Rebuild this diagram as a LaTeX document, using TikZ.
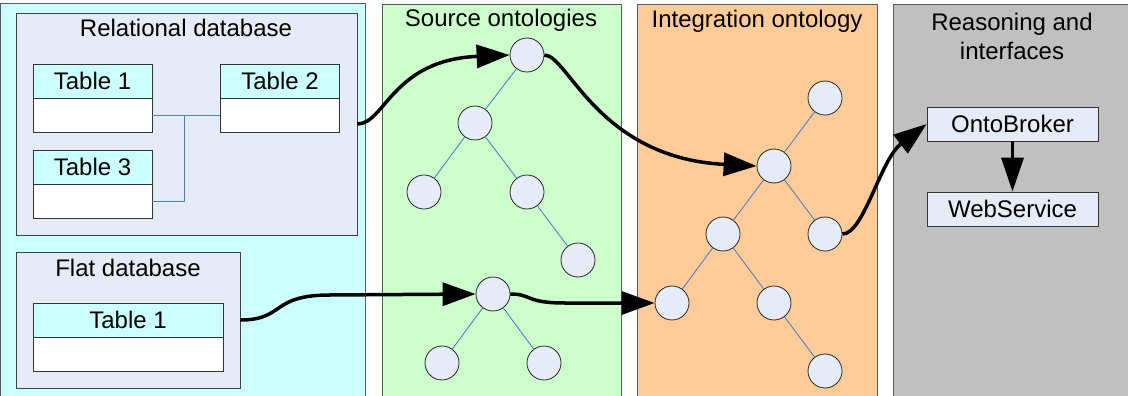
\documentclass[tikz,border=0pt]{standalone}
\usepackage{fontspec}
\setmainfont{Liberation Sans}
\usetikzlibrary{arrows.meta}
\definecolor{cyanfill}{HTML}{CCFFFF}
\definecolor{greenfill}{HTML}{CCFFCC}
\definecolor{orangefill}{HTML}{FFCC99}
\definecolor{grayfill}{HTML}{C0C0C0}
\definecolor{boxfill}{HTML}{E6ECF7}
\definecolor{edgeblue}{HTML}{4F81BD}
\tikzset{
  column/.style={draw=black!65, line width=0.8pt},
  group/.style={draw=black!75, fill=boxfill, line width=0.8pt, rectangle, inner sep=0pt},
  thead/.style={draw=black!80, fill=cyanfill, line width=0.8pt, rectangle, inner sep=0pt, minimum height=34pt},
  tbody/.style={draw=black!80, fill=white, line width=0.8pt, rectangle, inner sep=0pt, minimum height=34pt},
  concept/.style={circle, draw=black!85, fill=boxfill, line width=0.8pt, minimum size=34pt, inner sep=0pt},
  service/.style={draw=black!80, fill=boxfill, line width=0.8pt, rectangle, inner sep=0pt, minimum width=171pt, minimum height=34pt},
  tree/.style={draw=edgeblue, line width=0.9pt},
  link/.style={draw=edgeblue, line width=1pt},
  flow/.style={draw=black, line width=3.5pt, -{Triangle[length=33pt,width=23pt]}},
  title/.style={anchor=base, inner sep=0pt},
}
\begin{document}
\begin{tikzpicture}[x=1pt, y=-1pt, font=\fontsize{24}{28}\selectfont]
\useasboundingbox (0,0) rectangle (1128,396);
\clip (0,0) rectangle (1128,396);

% column backgrounds
\draw[column, fill=cyanfill]   (0.5,3) rectangle (365,420);
\draw[column, fill=greenfill]  (382,4) rectangle (621,420);
\draw[column, fill=orangefill] (637,4) rectangle (877,420);
\draw[column, fill=grayfill]   (893,4) rectangle (1140,420);

% column headings
\node[title] (hsrc) at (501,27) {Source ontologies};
\node[title] (hint) at (757,28) {Integration ontology};
\node[title] (hrea1) at (1012,31) {Reasoning and};
\node[title] (hrea2) at (1012,60) {interfaces};

% relational database
\node[group, minimum width=341pt, minimum height=222pt] (rel) at (186.5,124) {};
\node[title] (hrel) at (186,37) {Relational database};
\node[thead, minimum width=119pt] (t1h) at (92.5,81) {Table 1};
\node[tbody, minimum width=119pt] (t1b) at (92.5,115) {};
\node[thead, minimum width=119pt] (t2h) at (280,81) {Table 2};
\node[tbody, minimum width=119pt] (t2b) at (280,115) {};
\node[thead, minimum width=119pt] (t3h) at (92.5,167) {Table 3};
\node[tbody, minimum width=119pt] (t3b) at (92.5,201) {};
\coordinate (j) at (184,115);
\draw[link] (t1b.east) -- (t2b.west);
\draw[link] (t3b.east) -| (j);

% flat database
\node[group, minimum width=224pt, minimum height=136pt] (flat) at (128,320) {};
\node[title] (hflat) at (128,276) {Flat database};
\node[thead, minimum width=190pt] (fth) at (128,320) {Table 1};
\node[tbody, minimum width=190pt] (ftb) at (128,354) {};

% source ontologies
\node[concept] (s1) at (527,55) {};
\node[concept] (s2) at (475,123) {};
\node[concept] (s3) at (424,192) {};
\node[concept] (s4) at (527,192) {};
\node[concept] (s5) at (578,260) {};
\draw[tree] (s1) -- (s2) (s2) -- (s3) (s2) -- (s4) (s4) -- (s5);
\node[concept] (b1) at (493,294) {};
\node[concept] (b2) at (442,363) {};
\node[concept] (b3) at (544,363) {};
\draw[tree] (b1) -- (b2) (b1) -- (b3);

% integration ontology
\node[concept] (i1) at (825,98) {};
\node[concept] (i2) at (774,166) {};
\node[concept] (i3) at (723,234) {};
\node[concept] (i4) at (825,234) {};
\node[concept] (i5) at (672,303) {};
\node[concept] (i6) at (774,303) {};
\node[concept] (i7) at (825,371) {};
\draw[tree] (i1) -- (i2) (i2) -- (i3) (i2) -- (i4) (i3) -- (i5) (i3) -- (i6) (i6) -- (i7);

% reasoning and interfaces
\node[service] (ob) at (1012.5,124) {OntoBroker};
\node[service] (ws) at (1012.5,209) {WebService};
\draw[flow, -{Triangle[length=34pt,width=22pt]}] (ob.south) -- (ws.north);

% data flow between the layers
\draw[flow] (rel.east) .. controls (385,124) and (392,60) .. (s1.west);
\draw[flow] (s1.east) .. controls (568,55) and (598,158) .. (i2.west);
\draw[flow] (flat.east) .. controls (285,320) and (270,295) .. (330,295) -- (b1.west);
\draw[flow] (b1.east) .. controls (532,294) and (525,303) .. (565,303) -- (i5.west);
\draw[flow] (i4.east) .. controls (864,234) and (880,160) .. (ob.west);
\end{tikzpicture}
\end{document}
